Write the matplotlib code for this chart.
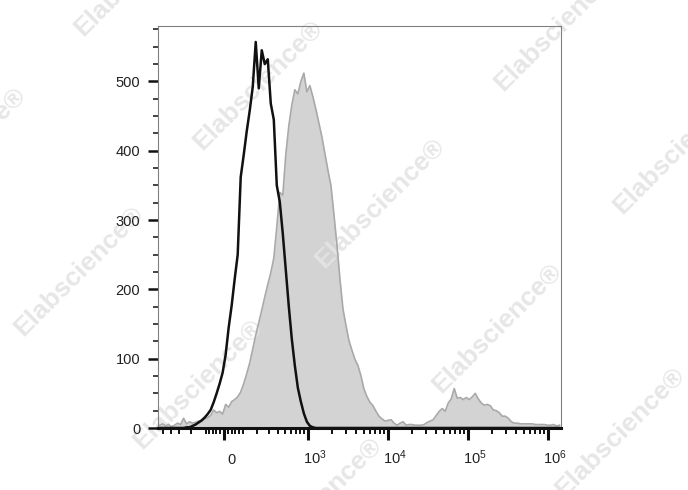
import numpy as np
import matplotlib
matplotlib.use("Agg")
import matplotlib.pyplot as plt
from matplotlib.transforms import ScaledTranslation

plt.rcParams['font.family'] = ['Liberation Sans', 'DejaVu Sans']
plt.rcParams['mathtext.fontset'] = 'custom'
plt.rcParams['mathtext.rm'] = 'Liberation Sans'
plt.rcParams['mathtext.it'] = 'Liberation Sans:italic'
plt.rcParams['mathtext.bf'] = 'Liberation Sans:bold'

# counts per channel (134 channels, evenly spaced on the biexponential axis)
isotype = [0, 0, 0, 0, 0, 0, 0, 0, 0, 1,
           1, 3, 5, 8, 11, 15, 20, 26, 37, 50,
           64, 80, 106, 145, 177, 215, 250, 362, 394, 428,
           458, 492, 557, 490, 545, 525, 532, 468, 445, 350,
           326, 280, 228, 175, 128, 90, 58, 38, 21, 9,
           3, 1] + [0] * 82
stained = [4, 6, 3, 5, 2, 4, 7, 5, 14, 6,
           9, 7, 8, 10, 9, 13, 15, 18, 26, 22,
           24, 20, 34, 30, 38, 41, 45, 52, 64, 78,
           94, 114, 134, 152, 170, 189, 207, 224, 245, 290,
           340, 336, 395, 436, 466, 488, 482, 500, 512, 485,
           494, 478, 460, 440, 420, 396, 372, 350, 308, 264,
           215, 172, 148, 126, 112, 99, 90, 75, 56, 45,
           37, 32, 24, 17, 13, 10, 11, 12, 7, 4,
           7, 9, 4, 5, 5, 4, 4, 4, 5, 8,
           10, 12, 18, 24, 28, 24, 36, 42, 57, 43,
           44, 41, 44, 41, 45, 50, 42, 36, 33, 34,
           32, 26, 25, 22, 17, 17, 14, 9, 7, 7,
           6, 6, 6, 6, 6, 5, 5, 5, 5, 4,
           4, 5, 3, 4]

x_major = [0, 1e3, 1e4, 1e5, 1e6]
x_labels = ['0', r'$\mathregular{10^{3}}$', r'$\mathregular{10^{4}}$',
            r'$\mathregular{10^{5}}$', r'$\mathregular{10^{6}}$']
x_minor = ([-500, -400, -300, -200, -100, -80, -60, -40, -20, 20, 40, 60, 80]
           + [k * 100 for k in range(1, 10)] + [k * 1000 for k in range(2, 10)]
           + [k * 10000 for k in range(2, 10)] + [k * 100000 for k in range(2, 10)])
x_range = (-590, 1.47e6)

W = 180.0
def fwd(x):
    return np.arcsinh(np.asarray(x, dtype=float) / W) / np.log(10)
def inv(y):
    return W * np.sinh(np.asarray(y, dtype=float) * np.log(10))

# channel centres in data units
f_edges = np.linspace(fwd(x_range[0]), fwd(x_range[1]), len(stained) + 1)
centers = inv((f_edges[:-1] + f_edges[1:]) / 2)

fig = plt.figure(figsize=(6.88, 4.90), dpi=100)
ax = fig.add_axes([158 / 688, 1 - 428 / 490, 403 / 688, 402 / 490])
ax.set_xscale('function', functions=(fwd, inv))

ax.fill_between(centers, stained, color='#d3d3d3', lw=0, zorder=1)
ax.plot(centers, stained, color='#a9a9a9', lw=1.2, zorder=2)
ax.plot(centers, isotype, color='#111111', lw=1.8, zorder=3)

ax.set_xlim(*x_range)
ax.set_ylim(0, 580)

ax.set_xticks(x_major)
ax.set_xticklabels(x_labels)
ax.set_xticks(x_minor, minor=True)
ax.set_yticks(range(0, 600, 100))
ax.set_yticks(range(0, 580, 25), minor=True)

ax.tick_params(axis='both', which='both', direction='out', color='#111111')
ax.tick_params(axis='x', which='major', length=8.6, width=2.2, pad=17, labelsize=10.5)
ax.tick_params(axis='x', which='minor', length=4.3, width=1.4)
ax.tick_params(axis='y', which='major', length=7.2, width=1.8, pad=5.5, labelsize=10.5)
ax.tick_params(axis='y', which='minor', length=3.6, width=1.1)

offset = ScaledTranslation(7 / 100, 0, fig.dpi_scale_trans)
for lab in ax.get_xticklabels():
    lab.set_verticalalignment('baseline')
    lab.set_transform(lab.get_transform() + offset)
for lab in ax.get_xticklabels() + ax.get_yticklabels():
    lab.set_color('#222222')

for side in ['top', 'right', 'left']:
    ax.spines[side].set_color('#808080')
    ax.spines[side].set_linewidth(0.8)
ax.spines['bottom'].set_color('#111111')
ax.spines['bottom'].set_linewidth(2.2)

# watermark
marks = [(139, -29), (258, 85), (-39, 152), (380, 203), (559, 26), (79, 271),
         (678, 149), (497, 328), (198, 384), (620, 432), (317, 502)]
for mx, my in marks:
    ax.text(mx / 688, 1 - my / 490, 'Elabscience®', transform=fig.transFigure,
            rotation=45, ha='center', va='center', rotation_mode='anchor',
            fontsize=19, fontweight='bold', color='#e4e4e4', alpha=0.9,
            clip_on=False, zorder=1.5)

fig.savefig('out.png', dpi=100)
